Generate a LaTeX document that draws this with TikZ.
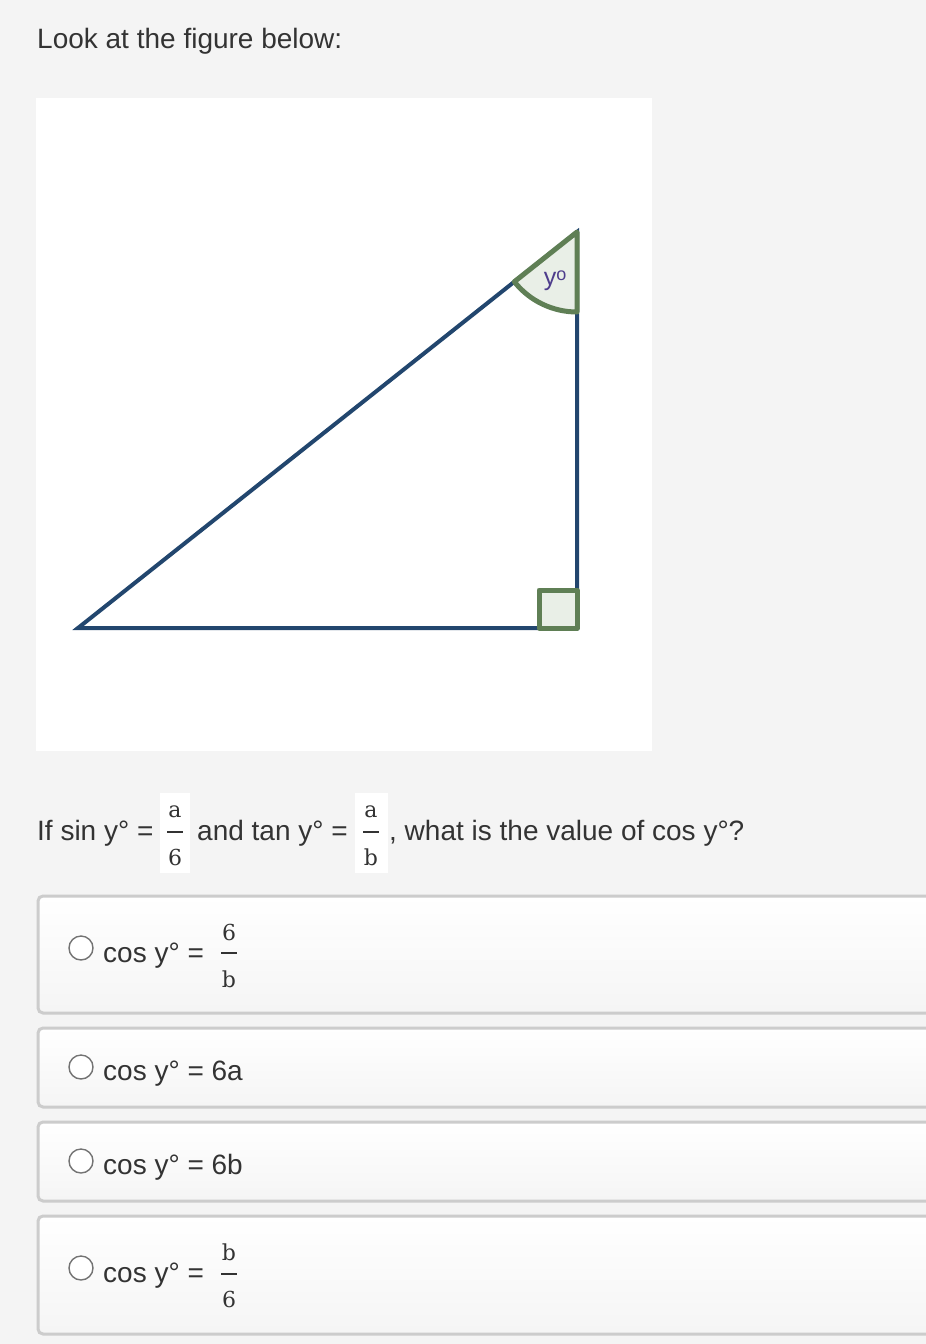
\documentclass[tikz,border=0pt]{standalone}
\usepackage{fontspec}
\setmainfont{Liberation Sans}
\newfontfamily\fracfont{DejaVu Serif}
\definecolor{bgc}{HTML}{F4F4F4}
\definecolor{txt}{HTML}{333333}
\definecolor{tri}{HTML}{22466E}
\definecolor{grn}{HTML}{5F7F55}
\definecolor{grnf}{HTML}{E9EFE7}
\definecolor{lbl}{HTML}{4E3D8C}
\definecolor{boxb}{HTML}{CCCCCC}
\tikzset{
  body/.style={text=txt, font=\fontsize{28}{32}\selectfont, inner sep=0pt, anchor=base west},
  fracnum/.style={text=txt, font=\fracfont\fontsize{22}{26}\selectfont, inner sep=0pt},
  optbox/.style={draw=boxb, line width=3pt, rounded corners=5pt, top color=white, bottom color=white!96!black},
  radio/.style={draw=black!55, line width=1.4pt, fill=white},
  triline/.style={draw=tri, line width=4pt},
  grnline/.style={draw=grn, line width=5pt, line join=round},
  fbar/.style={draw=txt, line width=1.4pt},
}
\begin{document}
\begin{tikzpicture}[x=1pt,y=-1pt]
\useasboundingbox (0,0) rectangle (926,1344);
\clip (0,0) rectangle (926,1344);
\fill[bgc] (0,0) rectangle (926,1344);
\node[body] (title) at (37,48) {Look at the figure below:};
% figure panel
\fill[white] (36,98) rectangle (652,751);
\coordinate (A) at (78,628);
\coordinate (C) at (577,628);
\coordinate (B) at (577,232);
\draw[triline] (A) -- (C) -- (B) -- cycle;
% angle marker
\filldraw[grnline, fill=grnf] (B) -- ++(141.56:80) arc[start angle=141.56, end angle=90, radius=80] -- cycle;
\node[text=lbl, font=\fontsize{25}{27}\selectfont, inner sep=0pt] (ylab) at (555,281) {y\raisebox{5pt}{\fontsize{18}{20}\selectfont o}};
% right angle square
\filldraw[grnline, fill=grnf] (539,590) rectangle (C);
% question
\node[body] (q1) at (37,840) {If sin y° =};
\fill[white] (160,793) rectangle (190,873);
\node[fracnum] (fa1) at (175,812) {a};
\draw[fbar] (167,832) -- (183,832);
\node[fracnum] (f61) at (175,857) {6};
\node[body] (q2) at (197,840) {and tan y° =};
\fill[white] (355,793) rectangle (388,873);
\node[fracnum] (fa2) at (371,812) {a};
\draw[fbar] (363,832) -- (379,832);
\node[fracnum] (fb2) at (371,857) {b};
\node[body] (q3) at (389,840) {, what is the value of cos y°?};
% options
\path[optbox] (38,896) rectangle (960,1013);
\path[optbox] (38,1028) rectangle (960,1107);
\path[optbox] (38,1122) rectangle (960,1201);
\path[optbox] (38,1216) rectangle (960,1334);
% option 1
\draw[radio] (81,948) circle[radius=12];
\node[body] (o1) at (103,962) {cos y° =};
\node[fracnum] (o1n) at (229,932) {6};
\draw[fbar] (221,953) -- (237,953);
\node[fracnum] (o1d) at (229,979) {b};
% option 2
\draw[radio] (81,1067) circle[radius=12];
\node[body] (o2) at (103,1080) {cos y° = 6a};
% option 3
\draw[radio] (81,1161) circle[radius=12];
\node[body] (o3) at (103,1174) {cos y° = 6b};
% option 4
\draw[radio] (81,1268) circle[radius=12];
\node[body] (o4) at (103,1282) {cos y° =};
\node[fracnum] (o4n) at (229,1252) {b};
\draw[fbar] (221,1274) -- (237,1274);
\node[fracnum] (o4d) at (229,1299) {6};
\end{tikzpicture}
\end{document}
